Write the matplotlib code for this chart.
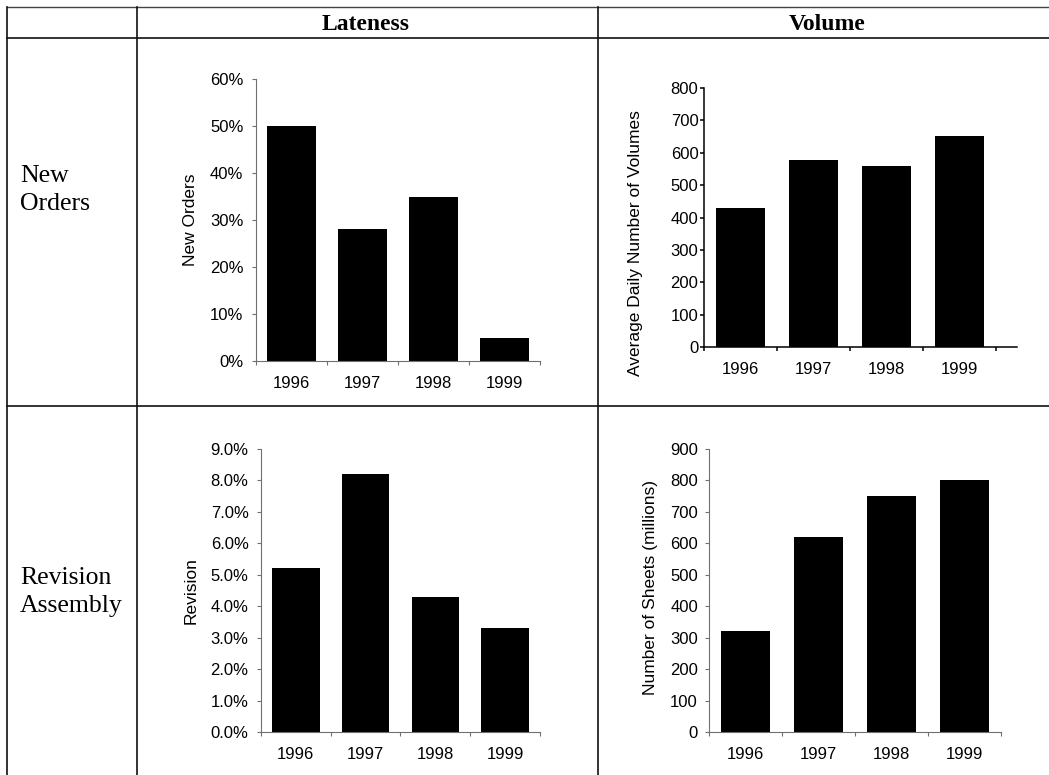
import matplotlib
matplotlib.use("Agg")
import matplotlib.pyplot as plt
from matplotlib.ticker import FixedLocator, FuncFormatter

W, H = 1049, 775

years = ["1996", "1997", "1998", "1999"]
new_orders_late = [50, 28, 35, 5]          # percent
new_orders_volume = [430, 578, 558, 652]   # avg daily volumes
revision_late = [5.2, 8.2, 4.3, 3.3]       # percent
revision_sheets = [320, 620, 750, 800]     # millions of sheets

col_headers = ["Lateness", "Volume"]
row_headers = ["New\nOrders", "Revision\nAssembly"]

SANS = "Liberation Sans"
SERIF = "Liberation Serif"

fig = plt.figure(figsize=(W / 100, H / 100), dpi=100)

# background table in pixel coordinates
bg = fig.add_axes([0, 0, 1, 1])
bg.set_xlim(0, W)
bg.set_ylim(H, 0)
bg.axis("off")
lc = "#111111"
bg.plot([7, W], [7, 7], color="#444444", lw=1.0)
bg.plot([7, W], [38, 38], color=lc, lw=1.2)
bg.plot([7, W], [406, 406], color=lc, lw=1.2)
for x in (7, 137, 598):
    bg.plot([x, x], [7, H], color=lc, lw=1.2)

bg.text(366, 24, col_headers[0], ha="center", va="center", family=SERIF,
        fontsize=17, fontweight="bold")
bg.text(827, 24, col_headers[1], ha="center", va="center", family=SERIF,
        fontsize=17, fontweight="bold")
bg.text(20, 190, row_headers[0], ha="left", va="center", family=SERIF,
        fontsize=18.5, linespacing=1.3)
bg.text(20, 592, row_headers[1], ha="left", va="center", family=SERIF,
        fontsize=18.5, linespacing=1.3)


def px_axes(left, right, top, bottom):
    return fig.add_axes([left / W, 1 - bottom / H, (right - left) / W, (bottom - top) / H])


def bar_panel(ax, vals, ylim, step, fmt, ylabel, lab_xy, spine_col, spine_lw,
              ypad, xmax=3.5):
    x = range(len(vals))
    ax.bar(x, vals, width=0.68, color="black")
    ax.set_xlim(-0.5, xmax)
    ax.set_ylim(0, ylim)
    for s in ("top", "right"):
        ax.spines[s].set_visible(False)
    for s in ("left", "bottom"):
        ax.spines[s].set_color(spine_col)
        ax.spines[s].set_linewidth(spine_lw)
    ticks = []
    v = 0
    while v <= ylim + 1e-9:
        ticks.append(v)
        v += step
    ax.yaxis.set_major_locator(FixedLocator(ticks))
    ax.yaxis.set_major_formatter(FuncFormatter(fmt))
    ax.tick_params(axis="y", length=3, width=spine_lw, color=spine_col,
                   pad=ypad, labelsize=12)
    for t in ax.get_yticklabels():
        t.set_family(SANS)
    # category boundaries as major ticks, year labels on minor ticks
    ax.xaxis.set_major_locator(FixedLocator([-0.5, 0.5, 1.5, 2.5, 3.5]))
    ax.xaxis.set_major_formatter(FuncFormatter(lambda v, p: ""))
    ax.xaxis.set_minor_locator(FixedLocator(list(x)))
    ax.set_xticklabels(years, minor=True, family=SANS, fontsize=12)
    ax.tick_params(axis="x", which="major", length=3, width=spine_lw, color=spine_col)
    ax.tick_params(axis="x", which="minor", length=0, pad=11)
    ax.set_ylabel(ylabel, family=SANS, fontsize=12.5, va="center")
    ax.yaxis.set_label_coords(*lab_xy)


ax1 = px_axes(256, 540, 79, 361)
bar_panel(ax1, [v / 100 for v in new_orders_late], 0.6, 0.1,
          lambda v, p: f"{v * 100:.0f}%", "New Orders", (-0.229, 0.5),
          "#707070", 0.8, 6)

ax2 = px_axes(704, 1017, 88, 347)
bar_panel(ax2, new_orders_volume, 800, 100, lambda v, p: f"{v:.0f}",
          "Average Daily Number of Volumes", (-0.22, 0.40),
          "black", 1.1, 1, xmax=3.79)

ax3 = px_axes(261, 540, 449, 732)
bar_panel(ax3, [v / 100 for v in revision_late], 0.09, 0.01,
          lambda v, p: f"{v * 100:.1f}%", "Revision", (-0.251, 0.5),
          "#707070", 0.8, 6)

ax4 = px_axes(709, 1001, 449, 732)
bar_panel(ax4, revision_sheets, 900, 100, lambda v, p: f"{v:.0f}",
          "Number of Sheets (millions)", (-0.199, 0.51),
          "#707070", 0.8, 5)

fig.savefig("out.png", dpi=100)
